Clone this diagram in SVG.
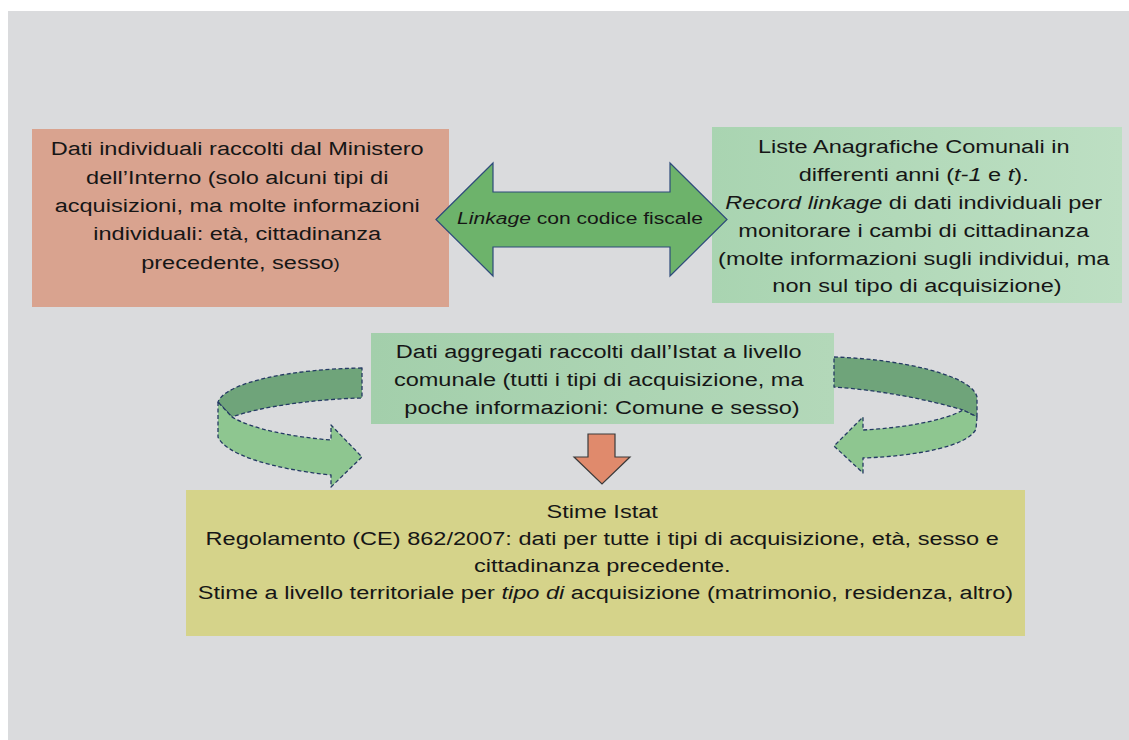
<svg xmlns="http://www.w3.org/2000/svg" width="1129" height="740" viewBox="0 0 1129 740">
<style>
.t{font-family:"Liberation Sans",Arial,Helvetica,sans-serif;font-size:19px;fill:#161616;text-anchor:middle}
.i{font-style:italic}
.rib{stroke:#243a63;stroke-width:1.3;stroke-dasharray:4 2.5;stroke-linejoin:round}
</style>
<defs>
<linearGradient id="gR" x1="0" y1="0" x2="1" y2="0"><stop offset="0" stop-color="#a9d4b1"/><stop offset="1" stop-color="#bddfc3"/></linearGradient>
<linearGradient id="gM" x1="0" y1="0" x2="1" y2="0"><stop offset="0" stop-color="#a3cfab"/><stop offset="1" stop-color="#b3d8b9"/></linearGradient>
</defs>
<rect x="0" y="0" width="1129" height="740" fill="#ffffff"/>
<rect x="8" y="11" width="1121" height="729" fill="#dadbdd"/>

<g id="node-ministero">
<rect x="32" y="129" width="417" height="178" fill="#d9a38f"/>
<text class="t" transform="translate(240.5,0) scale(1.24,1)">
<tspan x="0" y="155.5">Dati individuali raccolti dal Ministero</tspan>
<tspan x="0" y="183.8">dell’Interno (solo alcuni tipi di</tspan>
<tspan x="0" y="212.1">acquisizioni, ma molte informazioni</tspan>
<tspan x="0" y="240.4">individuali: età, cittadinanza</tspan>
<tspan x="0" y="268.7">precedente, sesso<tspan font-size="15">)</tspan></tspan>
</text>
</g>

<g id="node-liste">
<rect x="712" y="127" width="410" height="176" fill="url(#gR)"/>
<text class="t" transform="translate(917,0) scale(1.24,1)">
<tspan x="0" y="153.5">Liste Anagrafiche Comunali in</tspan>
<tspan x="0" y="181.3">differenti anni (<tspan class="i">t-1</tspan> e <tspan class="i">t</tspan>).</tspan>
<tspan x="0" y="209.1"><tspan class="i">Record linkage</tspan> di dati individuali per</tspan>
<tspan x="0" y="236.9">monitorare i cambi di cittadinanza</tspan>
<tspan x="0" y="264.7">(molte informazioni sugli individui, ma</tspan>
<tspan x="0" y="292.5">non sul tipo di acquisizione)</tspan>
</text>
</g>

<g id="node-aggregati">
<rect x="371" y="333" width="463" height="91" fill="url(#gM)"/>
<text class="t" transform="translate(602,0) scale(1.24,1)">
<tspan x="0" y="358.3">Dati aggregati raccolti dall’Istat a livello</tspan>
<tspan x="0" y="386.5">comunale (tutti i tipi di acquisizione, ma</tspan>
<tspan x="0" y="414.5">poche informazioni: Comune e sesso)</tspan>
</text>
</g>

<g id="node-stime">
<rect x="186" y="490" width="839" height="146" fill="#d5d38a"/>
<text class="t" transform="translate(605.5,0) scale(1.24,1)">
<tspan x="0" y="518">Stime Istat</tspan>
<tspan x="0" y="545">Regolamento (CE) 862/2007: dati per tutte i tipi di acquisizione, età, sesso e</tspan>
<tspan x="0" y="572">cittadinanza precedente.</tspan>
<tspan x="0" y="599">Stime a livello territoriale per <tspan class="i">tipo di</tspan> acquisizione (matrimonio, residenza, altro)</tspan>
</text>
</g>

<g id="connectors">
<g id="linkage">
<polygon points="436,219.5 493,163 493,192 670,192 670,163 727,219.5 670,276 670,247 493,247 493,276" fill="#6db36b" stroke="#2d4a7a" stroke-width="1.2"/>
<text class="t" font-size="17" style="font-size:17px" transform="translate(580,0) scale(1.24,1)"><tspan x="0" y="224"><tspan class="i">Linkage</tspan> con codice fiscale</tspan></text>
</g>
<g id="down-arrow">
<polygon points="588,434 615,434 615,457 630,457 602,484 574,457 588,457" fill="#e08a6c" stroke="#3a3a3a" stroke-width="1.2"/>
</g>
<g id="left-loop">
<path class="rib" d="M362,368 C292,369 226,382 218,402 L232,417 C262,406 318,399 362,398 Z" fill="#6fa47a"/>
<path class="rib" d="M218,402 L218,437 C225,454 272,469 331,475 L331,487 L362,457 L331,425 L331,440 C292,437 252,429 232,417 Z" fill="#8ec690"/>
</g>
<g id="right-loop">
<path class="rib" d="M834,357 C900,359 972,375 977,397 L977,417 L963,410 C930,400 880,390 834,387 Z" fill="#6fa47a"/>
<path class="rib" d="M977,417 L976,429 C968,446 918,456 863,458 L863,473 L834,446 L863,417 L863,430 C902,428 944,421 963,410 Z" fill="#8ec690"/>
</g>
</g>
</svg>
